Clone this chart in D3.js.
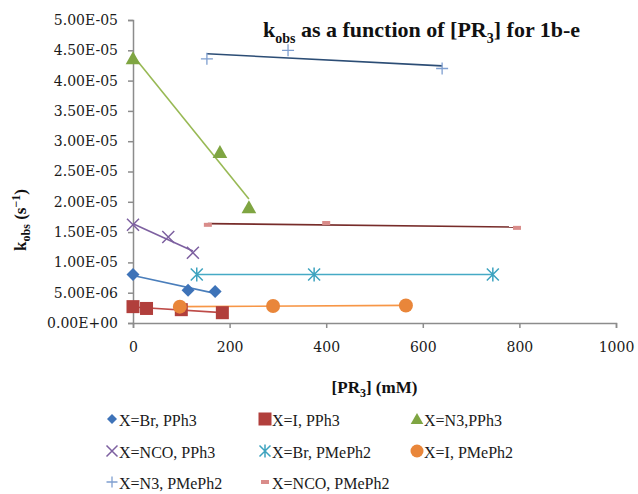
<!DOCTYPE html>
<html>
<head>
<meta charset="utf-8">
<script src="https://cdn.jsdelivr.net/npm/d3@7"></script>
<style>
  body { margin: 0; background: #fff; }
</style>
</head>
<body>
<div id="chart"></div>
<script>
// x = [PR3] (mM), y = kobs (s^-1)
const brPPh3X = [0, 114, 170];
const brPPh3Y = [8.0e-6, 5.4e-6, 5.2e-6];
const iPPh3X = [0, 28, 100, 185];
const iPPh3Y = [2.7e-6, 2.4e-6, 2.2e-6, 1.7e-6];
const n3PPh3X = [0, 180, 240];
const n3PPh3Y = [4.37e-5, 2.82e-5, 1.91e-5];
const ncoPPh3X = [0, 73, 124];
const ncoPPh3Y = [1.62e-5, 1.42e-5, 1.16e-5];
const brPMePh2X = [132, 375, 745];
const brPMePh2Y = [8.0e-6, 8.0e-6, 8.0e-6];
const iPMePh2X = [97, 290, 565];
const iPMePh2Y = [2.7e-6, 2.8e-6, 2.9e-6];
const n3PMePh2X = [153, 321, 640];
const n3PMePh2Y = [4.36e-5, 4.5e-5, 4.2e-5];
const ncoPMePh2X = [155, 400, 795];
const ncoPMePh2Y = [1.62e-5, 1.65e-5, 1.57e-5];

const seriesNames = ["X=Br, PPh3", "X=I, PPh3", "X=N3,PPh3", "X=NCO, PPh3",
  "X=Br, PMePh2", "X=I, PMePh2", "X=N3, PMePh2", "X=NCO, PMePh2"];

const xTicks = [0, 200, 400, 600, 800, 1000];
const yTicks = [0, 5e-6, 1e-5, 1.5e-5, 2e-5, 2.5e-5, 3e-5, 3.5e-5, 4e-5, 4.5e-5, 5e-5];
const yTickLabels = ["0.00E+00", "5.00E-06", "1.00E-05", "1.50E-05", "2.00E-05", "2.50E-05",
  "3.00E-05", "3.50E-05", "4.00E-05", "4.50E-05", "5.00E-05"];

const width = 638, height = 494;
const margin = { top: 20, right: 22, bottom: 171, left: 133 };
const serif = "'Liberation Serif', 'Times New Roman', serif";

const svg = d3.select("#chart").append("svg")
  .attr("width", width)
  .attr("height", height);

const x = d3.scaleLinear().domain([0, 1000]).range([margin.left, width - margin.right]);
const y = d3.scaleLinear().domain([0, 5e-5]).range([height - margin.bottom, margin.top]);

// axes
const xAxis = svg.append("g")
  .attr("transform", `translate(0,${y(0)})`)
  .call(d3.axisBottom(x).tickValues(xTicks).tickSize(5).tickPadding(14).tickFormat(d3.format("d")));
const yAxis = svg.append("g")
  .attr("transform", `translate(${x(0)},0)`)
  .call(d3.axisLeft(y).tickValues(yTicks).tickSize(5).tickPadding(10)
    .tickFormat((d, i) => yTickLabels[i]));

[xAxis, yAxis].forEach(g => {
  g.selectAll("path, line").attr("stroke", "#8c8c8c").attr("stroke-width", 1.5);
  g.selectAll("text")
    .style("font-family", "'DejaVu Serif', serif")
    .style("font-size", "14px")
    .attr("fill", "#1a1a1a");
});

// marker shapes
function marker(g, type, color, s) {
  const h = s / 2;
  if (type === "diamond") {
    g.append("path").attr("d", `M0,${-h}L${h},0L0,${h}L${-h},0Z`).attr("fill", color);
  } else if (type === "square") {
    g.append("rect").attr("x", -h).attr("y", -h).attr("width", s).attr("height", s).attr("fill", color);
  } else if (type === "triangle") {
    g.append("path").attr("d", `M0,${-h}L${h * 1.05},${h * 0.85}L${-h * 1.05},${h * 0.85}Z`).attr("fill", color);
  } else if (type === "circle") {
    g.append("circle").attr("r", h).attr("fill", color);
  } else if (type === "x") {
    g.append("path").attr("d", `M${-h},${-h}L${h},${h}M${-h},${h}L${h},${-h}`)
      .attr("stroke", color).attr("stroke-width", 1.5).attr("fill", "none");
  } else if (type === "star") {
    g.append("path").attr("d", `M${-h},${-h}L${h},${h}M${-h},${h}L${h},${-h}M0,${-h - 1}L0,${h + 1}`)
      .attr("stroke", color).attr("stroke-width", 1.5).attr("fill", "none");
  } else if (type === "plus") {
    g.append("path").attr("d", `M${-h},0L${h},0M0,${-h}L0,${h}`)
      .attr("stroke", color).attr("stroke-width", 1.3).attr("fill", "none");
  } else if (type === "dash") {
    g.append("rect").attr("x", -h).attr("y", -2).attr("width", s).attr("height", 4).attr("fill", color);
  }
}

const series = [
  { xs: brPPh3X, ys: brPPh3Y, line: "#4a7ebb", mark: "#3e73b8", type: "diamond", size: 13 },
  { xs: iPPh3X, ys: iPPh3Y, line: "#be4b48", mark: "#b13f3c", type: "square", size: 13 },
  { xs: n3PPh3X, ys: n3PPh3Y, line: "#98b954", mark: "#7fa542", type: "triangle", size: 14 },
  { xs: ncoPPh3X, ys: ncoPPh3Y, line: "#7d60a0", mark: "#7d60a0", type: "x", size: 12 },
  { xs: brPMePh2X, ys: brPMePh2Y, line: "#46aac5", mark: "#3da3bf", type: "star", size: 12 },
  { xs: iPMePh2X, ys: iPMePh2Y, line: "#f79646", mark: "#e9863a", type: "circle", size: 14 },
  { xs: n3PMePh2X, ys: n3PMePh2Y, line: "#2c4d75", mark: "#7f9fd0", type: "plus", size: 12 },
  { xs: ncoPMePh2X, ys: ncoPMePh2Y, line: "#772c2a", mark: "#d98c8a", type: "dash", size: 8 }
];

// linear trendlines (least squares), drawn over each series' x range
series.forEach(s => {
  const mx = d3.mean(s.xs), my = d3.mean(s.ys);
  const sxy = d3.sum(s.xs, (v, i) => (v - mx) * (s.ys[i] - my));
  const sxx = d3.sum(s.xs, v => (v - mx) * (v - mx));
  const slope = sxy / sxx, icpt = my - slope * mx;
  const x0 = d3.min(s.xs), x1 = d3.max(s.xs);
  svg.append("line")
    .attr("x1", x(x0)).attr("y1", y(icpt + slope * x0))
    .attr("x2", x(x1)).attr("y2", y(icpt + slope * x1))
    .attr("stroke", s.line).attr("stroke-width", 1.6);
});

series.forEach(s => {
  s.xs.forEach((v, i) => {
    const g = svg.append("g").attr("transform", `translate(${x(v)},${y(s.ys[i])})`);
    marker(g, s.type, s.mark, s.size);
  });
});

// title
const title = svg.append("text")
  .attr("x", 263).attr("y", 37)
  .attr("fill", "#111")
  .style("font-family", serif)
  .attr("font-weight", "bold").attr("font-size", 22);
title.append("tspan").text("k");
title.append("tspan").attr("dy", 6).attr("font-size", 14).text("obs");
title.append("tspan").attr("dy", -6).text(" as a function of [PR");
title.append("tspan").attr("dy", 6).attr("font-size", 14).text("3");
title.append("tspan").attr("dy", -6).text("] for 1b-e");

// y axis title
const yTitle = svg.append("text")
  .attr("transform", `translate(26,220) rotate(-90)`)
  .attr("text-anchor", "middle")
  .attr("fill", "#111")
  .style("font-family", serif)
  .attr("font-weight", "bold").attr("font-size", 17);
yTitle.append("tspan").text("k");
yTitle.append("tspan").attr("dy", 4).attr("font-size", 12).text("obs");
yTitle.append("tspan").attr("dy", -4).text(" (s");
yTitle.append("tspan").attr("dy", -6).attr("font-size", 12).text("−1");
yTitle.append("tspan").attr("dy", 6).text(")");

// x axis title
const xTitle = svg.append("text")
  .attr("x", (x(0) + x(1000)) / 2).attr("y", 393)
  .attr("text-anchor", "middle")
  .attr("fill", "#111")
  .style("font-family", serif)
  .attr("font-weight", "bold").attr("font-size", 17);
xTitle.append("tspan").text("[PR");
xTitle.append("tspan").attr("dy", 4).attr("font-size", 12).text("3");
xTitle.append("tspan").attr("dy", -4).text("] (mM)");

// legend
const legendCols = [112, 265, 417];
const legendRows = [420, 452, 483];
const legendMarkSize = [10, 13, 12, 11, 11, 13, 11, 8];
series.forEach((s, i) => {
  const cx = legendCols[i % 3], cy = legendRows[Math.floor(i / 3)];
  const g = svg.append("g").attr("transform", `translate(${cx},${cy - 1})`);
  marker(g, s.type, s.mark, legendMarkSize[i]);
  svg.append("text")
    .attr("x", cx + 7).attr("y", cy + 6)
    .attr("fill", "#1a1a1a")
    .style("font-family", serif)
    .attr("font-size", 16)
    .text(seriesNames[i]);
});
</script>
</body>
</html>
